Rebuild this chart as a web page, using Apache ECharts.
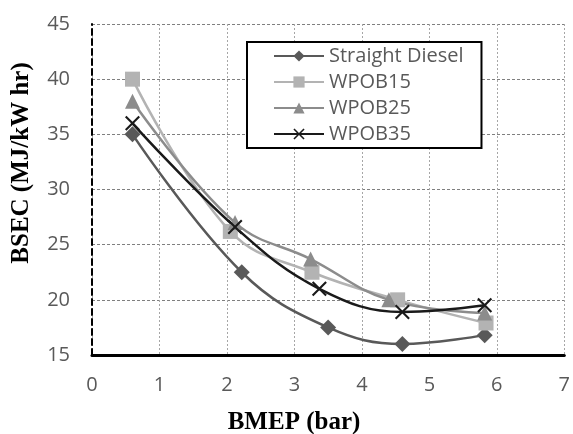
<!DOCTYPE html>
<html>
<head>
<meta charset="utf-8">
<script src="https://cdn.jsdelivr.net/npm/echarts@6/dist/echarts.min.js"></script>
<style>
  html, body { margin: 0; padding: 0; background: #fff; }
</style>
</head>
<body>
<div id="main" style="width: 573px;height:434px;"></div>
<script type="text/javascript">

    // 数据 (BMEP bar, BSEC MJ/kW hr)
    var seriesNames = ['Straight Diesel', 'WPOB15', 'WPOB25', 'WPOB35'];
    var dieselX = [0.6, 2.22, 3.5, 4.6, 5.82];
    var dieselY = [35.0, 22.5, 17.5, 16.0, 16.8];
    var wpob15X = [0.6, 2.05, 3.26, 4.53, 5.84];
    var wpob15Y = [40.0, 26.2, 22.5, 20.0, 17.9];
    var wpob25X = [0.6, 2.12, 3.24, 4.4, 5.82];
    var wpob25Y = [38.0, 27.0, 23.7, 20.0, 18.8];
    var wpob35X = [0.6, 2.12, 3.37, 4.6, 5.82];
    var wpob35Y = [36.0, 26.6, 21.0, 18.9, 19.5];
    var xTicks = [0, 1, 2, 3, 4, 5, 6, 7];
    var yTicks = [15, 20, 25, 30, 35, 40, 45];

    function pairs(xs, ys){
        var out = [];
        for(var i=0;i<xs.length;i++){
            out.push([xs[i], ys[i]]);
        }
        return out;
    }

    var crossPath = 'path://M0,1L1,0L5,4L9,0L10,1L6,5L10,9L9,10L5,6L1,10L0,9L4,5Z';

    var myChart = echarts.init(document.getElementById('main'));

    function makeSeries(name, xs, ys, color, symbol, size){
        return {
            name: name,
            type: 'line',
            data: pairs(xs, ys),
            smooth: 0.4,
            symbol: symbol,
            symbolSize: size,
            showAllSymbol: true,
            lineStyle: { color: color, width: 2.5 },
            itemStyle: { color: color },
            emphasis: { disabled: true }
        };
    }

    var option = {
        animation: false,
        textStyle: { fontFamily: 'Open Sans' },
        grid: { left: 92, right: 6, top: 24, bottom: 79 },
        title: [{
            text: 'BMEP (bar)',
            left: 289,
            top: 405,
            textAlign: 'center',
            textStyle: { fontFamily: 'Liberation Serif', fontWeight: 'bold', fontSize: 25, color: '#000' }
        }],
        graphic: [{
            type: 'text',
            x: 22,
            y: 163,
            rotation: Math.PI / 2,
            style: {
                text: 'BSEC (MJ/kW hr)',
                font: 'bold 25px "Liberation Serif"',
                fill: '#000',
                align: 'center',
                verticalAlign: 'middle'
            }
        }],
        legend: {
            orient: 'vertical',
            left: 247,
            top: 42,
            data: seriesNames,
            backgroundColor: '#fff',
            borderColor: '#000',
            borderWidth: 2,
            padding: [4, 18, 4, 26],
            itemWidth: 50,
            itemHeight: 14,
            itemGap: 6,
            textStyle: { fontSize: 20, color: '#595959', fontFamily: 'Open Sans' }
        },
        xAxis: {
            type: 'value',
            min: 0,
            max: 7,
            interval: 1,
            axisLine: { show: true, onZero: false, lineStyle: { color: '#000', width: 3 } },
            axisTick: { show: false },
            axisLabel: { fontSize: 20, color: '#595959', margin: 20, fontFamily: 'Open Sans' },
            splitLine: { show: true, lineStyle: { color: '#a6a6a6', type: [2, 2], width: 1 } }
        },
        yAxis: {
            type: 'value',
            min: 15,
            max: 45,
            interval: 5,
            axisLine: { show: true, onZero: false, lineStyle: { color: '#000', width: 2, type: [6, 4] } },
            axisTick: { show: false },
            axisLabel: { fontSize: 20, color: '#595959', margin: 22, fontFamily: 'Open Sans' },
            splitLine: { show: true, lineStyle: { color: '#7f7f7f', type: [3, 2], width: 1 } }
        },
        series: [
            makeSeries(seriesNames[0], dieselX, dieselY, '#595959', 'diamond', 16),
            makeSeries(seriesNames[1], wpob15X, wpob15Y, '#b3b3b3', 'rect', 15),
            makeSeries(seriesNames[2], wpob25X, wpob25Y, '#8c8c8c', 'triangle', 15),
            makeSeries(seriesNames[3], wpob35X, wpob35Y, '#1a1a1a', crossPath, 15)
        ]
    };

    myChart.setOption(option);
</script>
</body>
</html>
